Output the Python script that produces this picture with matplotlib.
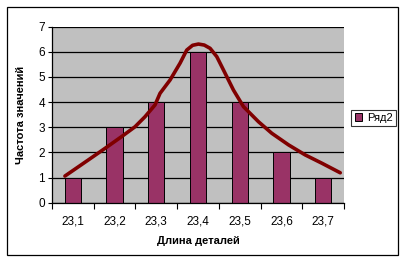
import matplotlib
matplotlib.use("Agg")
import matplotlib.pyplot as plt
from matplotlib.patches import Rectangle
import numpy as np

plt.rcParams['font.family'] = ['Liberation Sans', 'DejaVu Sans']

categories = ["23,1", "23,2", "23,3", "23,4", "23,5", "23,6", "23,7"]
counts = [1, 3, 4, 6, 4, 2, 1]

# smoothed curve (x in category index units)
curve_x = [-0.19, 0.37, 0.77, 1.17, 1.49, 1.73, 1.97, 2.09, 2.33, 2.57, 2.73, 2.87,
           3.01, 3.15, 3.29, 3.45, 3.61, 3.85, 4.09, 4.45, 4.77, 5.17, 5.57, 5.97, 6.41]
curve_y = [1.06, 1.70, 2.16, 2.63, 3.02, 3.42, 3.89, 4.35, 4.88, 5.55, 6.07, 6.26,
           6.31, 6.27, 6.14, 5.81, 5.28, 4.48, 3.82, 3.22, 2.76, 2.30, 1.90, 1.57, 1.19]

W, H = 403, 263
fig = plt.figure(figsize=(W / 100, H / 100), dpi=100)
fig.patch.set_facecolor('white')

ax = fig.add_axes([52 / W, (H - 202.7) / H, 292 / W, 176 / H])
ax.set_facecolor('#C0C0C0')

x = np.arange(len(categories))
ax.set_axisbelow(True)
ax.yaxis.grid(True, color='black', linewidth=0.9)
bars = ax.bar(x, counts, width=0.39, color='#993366', edgecolor='black',
              linewidth=0.7, label='Ряд2', zorder=2)
ax.plot(curve_x, curve_y, color='#800000', linewidth=2.6,
        solid_joinstyle='round', solid_capstyle='round', zorder=3)

ax.set_xlim(-0.5, len(categories) - 0.5)
ax.set_ylim(0, 7)
ax.set_yticks(range(0, 8))
ax.set_xticks(x)
ax.set_xticklabels(categories, fontsize=8.5)
ax.set_xticks(np.arange(-0.5, len(categories)), minor=True)
ax.tick_params(axis='x', which='major', length=0, pad=9)
ax.tick_params(axis='x', which='minor', length=4, width=0.8, direction='out')
ax.tick_params(axis='y', length=3, width=0.8, direction='out', labelsize=8.5, pad=2)

for s in ['top', 'right']:
    ax.spines[s].set_visible(False)
for s in ['left', 'bottom']:
    ax.spines[s].set_color('black')
    ax.spines[s].set_linewidth(0.9)

ax.set_ylabel('Частота значений', fontsize=8, fontweight='bold', labelpad=9)
ax.set_xlabel('Длина деталей', fontsize=8, fontweight='bold', labelpad=6)

leg = fig.legend(handles=[bars], labels=['Ряд2'], loc='center',
                 bbox_to_anchor=(373.5 / W, (H - 118) / H), fontsize=8,
                 frameon=True, fancybox=False, edgecolor='black',
                 handlelength=0.7, handleheight=0.7, handletextpad=0.4,
                 borderpad=0.3, borderaxespad=0)
leg.get_frame().set_linewidth(0.8)

fig.patches.append(Rectangle((7 / W, (H - 255) / H), 391 / W, 248 / H,
                             transform=fig.transFigure, fill=False,
                             edgecolor='black', linewidth=0.9))

fig.savefig('out.png', dpi=100)
